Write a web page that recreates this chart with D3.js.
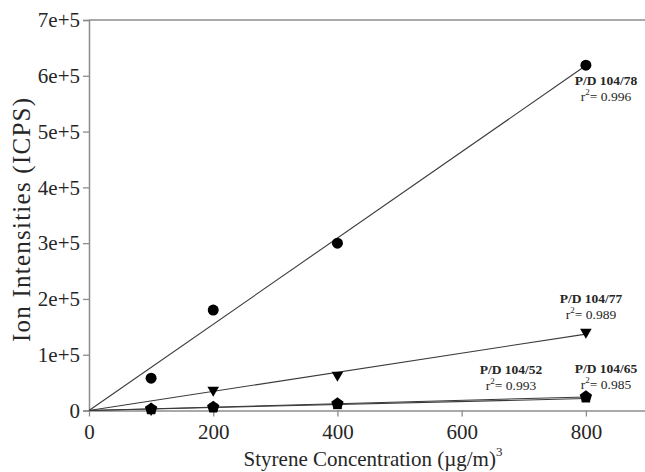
<!DOCTYPE html>
<html>
<head>
<meta charset="utf-8">
<script src="https://cdn.jsdelivr.net/npm/d3@7"></script>
<style>
  body { margin: 0; background: #fff; }
  svg { display: block; font-family: "Liberation Serif", "Times New Roman", Times, serif; }
</style>
</head>
<body>
<div id="chart"></div>
<script>
// concentrations (µg/m3)
const concentrations = [100, 200, 400, 800];

// ion intensities per product/daughter pair
const pd78 = [58000, 180000, 300000, 619000];
const pd77 = [2000, 36700, 63600, 140700];
const pd52 = [1500, 5000, 10000, 22000];
const pd65 = [2500, 6000, 12000, 24500];

const seriesNames = ['P/D 104/78', 'P/D 104/77', 'P/D 104/52', 'P/D 104/65'];
const rSquared = ['0.996', '0.989', '0.993', '0.985'];

const xTicks = [0, 200, 400, 600, 800];
const yTicks = [0, 100000, 200000, 300000, 400000, 500000, 600000, 700000];

const width = 645, height = 472;
const margin = { top: 20, right: -3, bottom: 61.5, left: 89 };
const fontFamily = '"Liberation Serif", "Times New Roman", Times, serif';

const svg = d3.select('#chart').append('svg')
  .attr('width', width)
  .attr('height', height);

const x = d3.scaleLinear().domain([0, 900]).range([margin.left, width - margin.right]);
const y = d3.scaleLinear().domain([0, 700000]).range([height - margin.bottom, margin.top]);

const axisColor = '#8c8c8c';
const textColor = '#262626';

// pentagon marker, drawn through d3.symbol
const symbolPentagon = {
  draw(ctx, size) {
    const r = Math.sqrt(size / 2.38);
    for (let i = 0; i < 5; i++) {
      const a = -Math.PI / 2 + i * 2 * Math.PI / 5;
      const px = r * Math.cos(a), py = r * Math.sin(a);
      if (i === 0) ctx.moveTo(px, py); else ctx.lineTo(px, py);
    }
    ctx.closePath();
  }
};

const series = [
  { name: seriesNames[0], r2: rSquared[0], values: pd78, symbol: d3.symbolCircle, size: 95, rotate: 0,
    label: { x: 606, y: 85 } },
  { name: seriesNames[1], r2: rSquared[1], values: pd77, symbol: d3.symbolTriangle, size: 58, rotate: 180,
    label: { x: 591, y: 303 } },
  { name: seriesNames[2], r2: rSquared[2], values: pd52, symbol: d3.symbolSquare, size: 72, rotate: 0,
    label: { x: 511, y: 374 } },
  { name: seriesNames[3], r2: rSquared[3], values: pd65, symbol: symbolPentagon, size: 100, rotate: 0,
    label: { x: 606, y: 373 } }
];

// top frame line
svg.append('line')
  .attr('x1', x(0)).attr('x2', width)
  .attr('y1', y(700000)).attr('y2', y(700000))
  .attr('stroke', axisColor).attr('stroke-width', 1.5);

// y axis
const yAxis = svg.append('g')
  .attr('transform', `translate(${x(0)},0)`)
  .call(d3.axisLeft(y).tickValues(yTicks).tickSize(6).tickPadding(3)
    .tickFormat(d => d === 0 ? '0' : d3.format('.0e')(d)));
yAxis.select('.domain').attr('stroke', axisColor).attr('stroke-width', 1.5);
yAxis.selectAll('.tick line').attr('stroke', axisColor).attr('stroke-width', 1.3);
yAxis.selectAll('.tick text')
  .attr('font-family', fontFamily).attr('font-size', 21).attr('fill', textColor);

// x axis
const xAxis = svg.append('g')
  .attr('transform', `translate(0,${y(0)})`)
  .call(d3.axisBottom(x).tickValues(xTicks).tickSize(6).tickPadding(8).tickSizeOuter(0));
xAxis.select('.domain').attr('stroke', axisColor).attr('stroke-width', 1.5);
xAxis.selectAll('.tick line').attr('stroke', axisColor).attr('stroke-width', 1.3);
xAxis.selectAll('.tick text')
  .attr('font-family', fontFamily).attr('font-size', 21).attr('fill', textColor);

// axis titles
svg.append('text')
  .attr('transform', `translate(30,220) rotate(-90)`)
  .attr('text-anchor', 'middle')
  .attr('font-size', 25).attr('fill', textColor)
  .attr('textLength', 244).attr('lengthAdjust', 'spacing')
  .text('Ion Intensities (ICPS)');

const xTitle = svg.append('text')
  .attr('x', 373).attr('y', 466)
  .attr('text-anchor', 'middle')
  .attr('font-size', 21).attr('fill', textColor);
xTitle.append('tspan').text('Styrene Concentration (\u00b5g/m)');
xTitle.append('tspan').attr('font-size', 13).attr('dy', -10).text('3');

// regression lines through the origin
series.forEach(s => {
  const sxy = d3.sum(concentrations, (c, i) => c * s.values[i]);
  const sxx = d3.sum(concentrations, c => c * c);
  s.slope = sxy / sxx;
});

const xMax = d3.max(concentrations);
const line = d3.line().x(d => x(d[0])).y(d => y(d[1]));
svg.append('g').selectAll('path')
  .data(series)
  .join('path')
  .attr('d', s => line([[0, 0], [xMax, s.slope * xMax]]))
  .attr('fill', 'none')
  .attr('stroke', '#3a3a3a')
  .attr('stroke-width', 1.1);

// markers
series.forEach(s => {
  svg.append('g').selectAll('path')
    .data(concentrations.map((c, i) => [c, s.values[i]]))
    .join('path')
    .attr('transform', d => `translate(${x(d[0])},${y(d[1])}) rotate(${s.rotate})`)
    .attr('d', d3.symbol().type(s.symbol).size(s.size))
    .attr('fill', '#000');
});

// series labels
series.forEach(s => {
  const g = svg.append('g').attr('fill', textColor).attr('text-anchor', 'middle');
  g.append('text')
    .attr('x', s.label.x).attr('y', s.label.y)
    .attr('font-size', 13.5).attr('font-weight', 'bold')
    .text(s.name);
  const t = g.append('text')
    .attr('x', s.label.x).attr('y', s.label.y + 16)
    .attr('font-size', 13.5);
  t.append('tspan').text('r');
  t.append('tspan').attr('font-size', 9).attr('dy', -6).text('2');
  t.append('tspan').attr('dy', 6).text('= ' + s.r2);
});
</script>
</body>
</html>
